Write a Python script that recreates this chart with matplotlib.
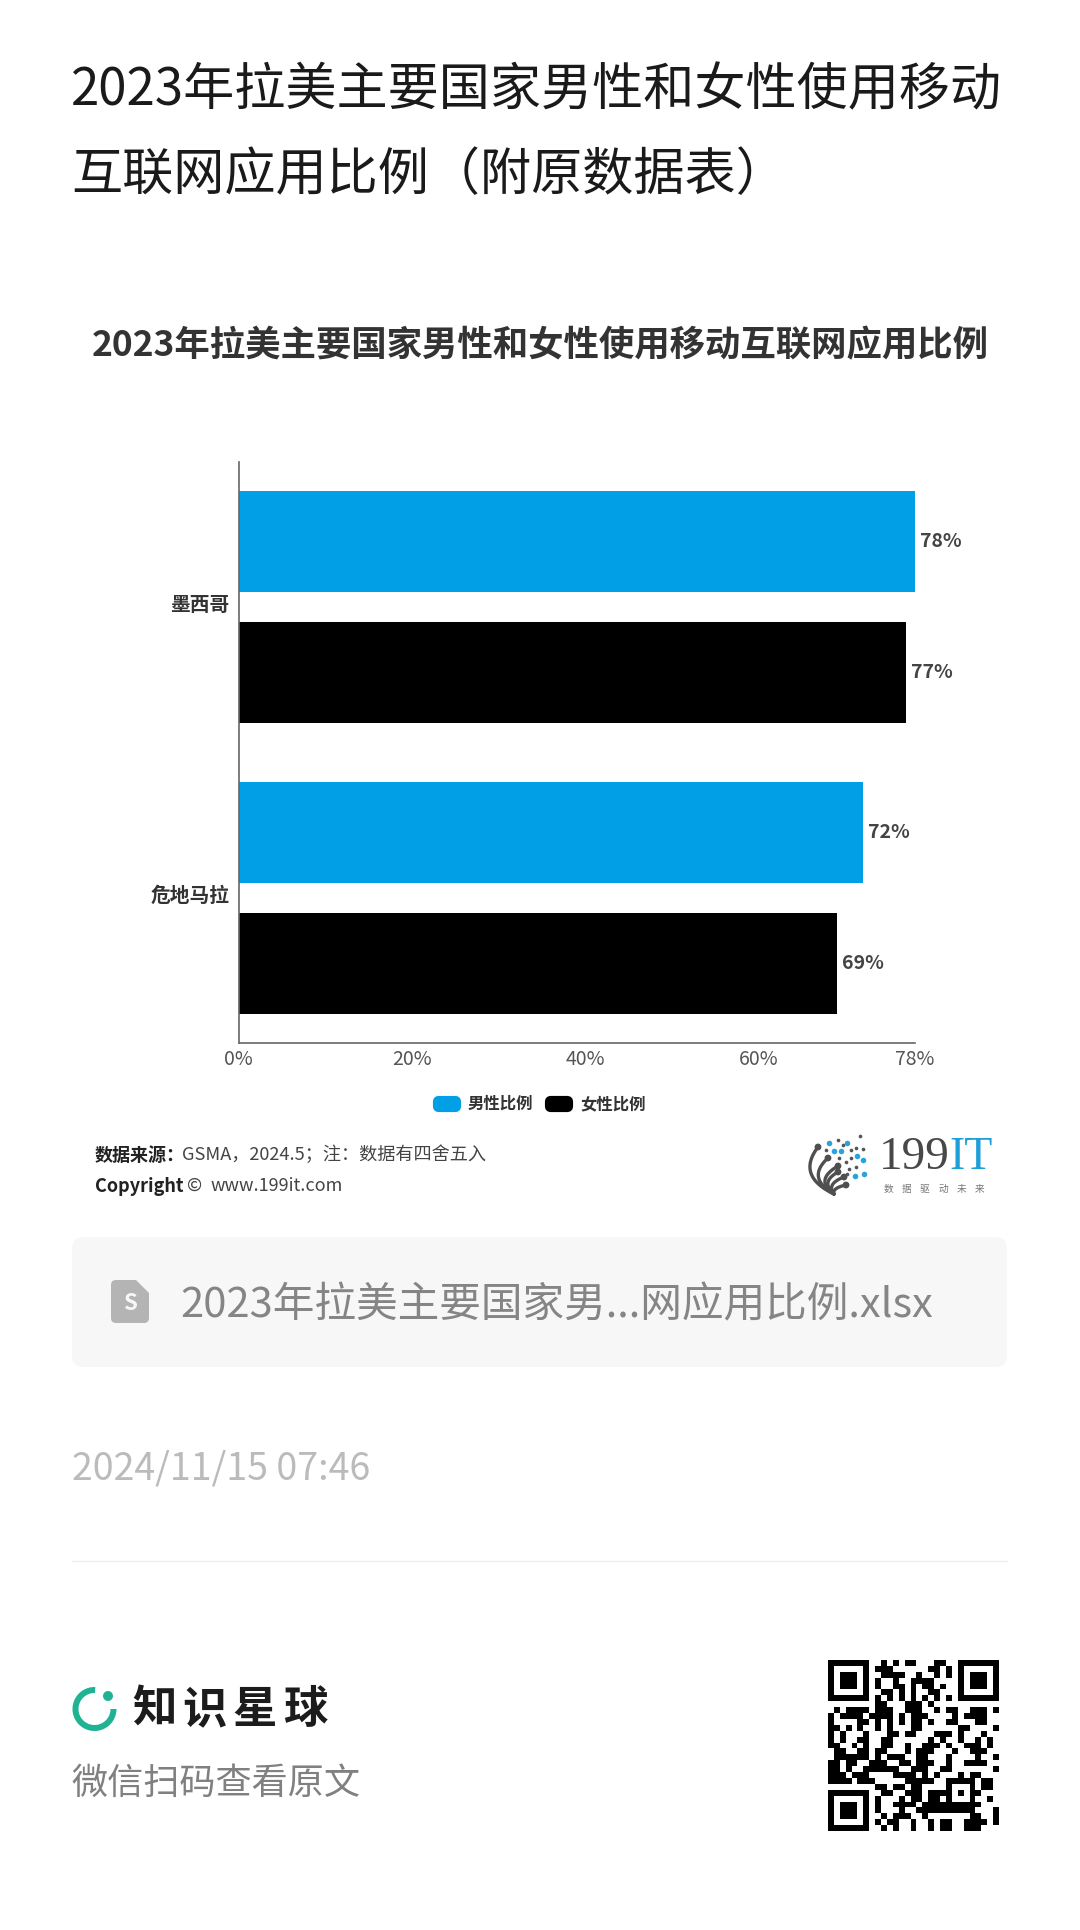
import numpy as np
import matplotlib
matplotlib.use('Agg')
import matplotlib.pyplot as plt
from matplotlib.patches import FancyBboxPatch, Wedge, Circle, Polygon
from matplotlib.transforms import ScaledTranslation

plt.rcParams['font.family'] = ['Noto Sans CJK SC', 'DejaVu Sans']

# data
countries = ['墨西哥', '危地马拉']
male = [78, 72]
female = [77, 69]
series_names = ['男性比例', '女性比例']
series_colors = ['#019fe6', '#000000']
xticks = [0, 20, 40, 60, 78]

page_title = ['2023年拉美主要国家男性和女性使用移动', '互联网应用比例（附原数据表）']
chart_title = '2023年拉美主要国家男性和女性使用移动互联网应用比例'
file_name = '2023年拉美主要国家男...网应用比例.xlsx'
date_text = '2024/11/15 07:46'

qr_rows = [
    '1111111001010110001100' + '1111111',
    '1000001011100000011010' + '1000001',
    '1011101001111001001010' + '1011101',
    '1011101010010011110000' + '1011101',
    '1011101010011010110100' + '1011101',
    '1000001001101010011000' + '1000001',
    '1111111010101010101010' + '1111111',
    '0000000011000111010000' + '0000000',
    '0101111011100111001011' + '0011101',
    '1011110111101011100001' + '0111100',
    '1000011010101011010011' + '0001100',
    '1101010010100011000000' + '1100001',
    '1010001000110110001110' + '1000100',
    '1010011001100000010100' + '1001010',
    '1100101001100100111010' + '0111010',
    '0110011011000101110001' + '0011100',
    '0111111010111001100010' + '0001001',
    '1101100111001101110010' + '0111100',
    '1101001111110011100110' + '0000001',
    '1110111000011110101000' + '1011000',
    '1111011100000111110011111' + '0110',
    '00000000110110110000100010110',
    '11111110' + '011001110111101011000',
    '10000010' + '100010110110100010010',
    '10111010' + '100111101111111111000',
    '10111010' + '100010011111111110001',
    '10111010' + '010111001000000011001',
    '10000010' + '101100100101100111101',
    '11111110' + '010100100101100111000',
]

# 199IT logo bits (page pixels)
logo_blue = [(829, 1143), (847, 1143), (841, 1151), (834, 1151), (857, 1156), (863, 1160), (855, 1176), (864, 1174)]
logo_dark = [(838, 1140), (860, 1136), (843, 1145), (826, 1150), (851, 1150), (856, 1148), (863, 1149),
             (839, 1158), (851, 1158), (846, 1162), (856, 1167), (849, 1169), (847, 1174)]
stem_ends = [(818, 1147), (828, 1158), (838, 1166), (838, 1172), (844, 1177), (846, 1185)]
stem_ctrl = [(796, 1176), (806, 1178), (814, 1180), (820, 1182), (826, 1184), (832, 1188)]

fig = plt.figure(figsize=(10.8, 19.3), dpi=100, facecolor='white')

# whole page in pixel coords
page = fig.add_axes([0, 0, 1, 1])
page.set_xlim(0, 1080)
page.set_ylim(1930, 0)
page.axis('off')

for i, line in enumerate(page_title):
    page.text(71, 91 + i * 84, line, fontsize=36.8, color='#1a1a1a', va='center', ha='left')
page.text(540, 346, chart_title, fontsize=25.5, fontweight='bold', color='#333333', va='center', ha='center')

# chart
W, H = 1080.0, 1930.0
ax = fig.add_axes([238.5 / W, 1 - 1043 / H, (914.5 - 238.5) / W, (1043 - 462) / H])
y = np.arange(len(countries))
bar_h = 0.348
off = 0.226
bars_m = ax.barh(y - off, male, bar_h, color=series_colors[0])
bars_f = ax.barh(y + off, female, bar_h, color=series_colors[1])
ax.set_ylim(1.5, -0.5)
ax.set_xlim(0, 78)
ax.set_xticks(xticks)
ax.set_xticklabels(['%d%%' % v for v in xticks], fontsize=14, color='#555555')
ax.set_yticks(y)
ax.set_yticklabels(countries, fontsize=14.2, fontweight='bold', color='#333333')
ax.tick_params(axis='x', length=0, pad=4)
ax.tick_params(axis='y', length=0, pad=6.5)
# category labels sit a little above centre in the original
for lab in ax.get_yticklabels():
    lab.set_transform(lab.get_transform() + ScaledTranslation(0, 2.5 / 72, fig.dpi_scale_trans))
for s in ['top', 'right']:
    ax.spines[s].set_visible(False)
for s in ['left', 'bottom']:
    ax.spines[s].set_color('#666666')
    ax.spines[s].set_linewidth(1.2)
for b, vals in ((bars_m, male), (bars_f, female)):
    ax.bar_label(b, labels=['%d%%' % v for v in vals], padding=4, fontsize=14,
                 fontweight='bold', color='#444444', clip_on=False)

# legend
def legend_item(x, color, name):
    page.add_patch(FancyBboxPatch((x + 3, 1098), 24, 12, boxstyle='round,pad=0,rounding_size=4',
                                  mutation_aspect=1, fc=color, ec=color, lw=3))
    page.text(x + 36, 1104, name, fontsize=11.8, fontweight='bold', color='#333333', va='center', ha='left')

legend_item(432, series_colors[0], series_names[0])
legend_item(544, series_colors[1], series_names[1])

# source
page.text(95, 1155, '数据来源：', fontsize=13, fontweight='bold', color='#222222', va='center')
page.text(182, 1155, 'GSMA，2024.5；注：数据有四舍五入', fontsize=13.1, color='#444444', va='center')
page.text(95, 1186, 'Copyright', fontsize=13, fontweight='bold', color='#222222', va='center')
page.text(187, 1186, '©', fontsize=13, color='#444444', va='center')
page.text(211, 1186, 'www.199it.com', fontsize=13, color='#444444', va='center')

# 199IT logo
base = np.array([834.0, 1194.0])
tt = np.linspace(0, 1, 30)
for end, ctrl in zip(stem_ends, stem_ctrl):
    end = np.array(end)
    ctrl = np.array(ctrl)
    pts = np.outer((1 - tt) ** 2, base) + np.outer(2 * tt * (1 - tt), ctrl) + np.outer(tt ** 2, end)
    page.plot(pts[:, 0], pts[:, 1], color='#4f4f4f', lw=2.4, solid_capstyle='round')
    page.add_patch(Circle(tuple(end), 3.4, fc='#4f4f4f', ec='none'))
page.scatter([p[0] for p in logo_dark], [p[1] for p in logo_dark], s=7, c='#555555', linewidths=0)
page.scatter([p[0] for p in logo_blue], [p[1] for p in logo_blue], s=16, c='#2aa3dc', linewidths=0)
page.text(879, 1158, '199', fontsize=34, family='Liberation Serif', color='#484848', va='center', ha='left')
page.text(949, 1158, 'IT', fontsize=33, family='Liberation Serif', color='#1e9fd8', va='center', ha='left')
for i, ch in enumerate('数据驱动未来'):
    page.text(888 + i * 18.4, 1189, ch, fontsize=7, color='#777777', va='center', ha='center')

# attachment card
page.add_patch(FancyBboxPatch((72, 1237), 935, 130, boxstyle='round,pad=0,rounding_size=12',
                              fc='#f7f7f7', ec='none'))
page.add_patch(FancyBboxPatch((111, 1280), 38, 43, boxstyle='round,pad=0,rounding_size=5',
                              fc='#b4b4b4', ec='none'))
page.add_patch(Polygon([[135, 1279], [150, 1279], [150, 1294]], fc='#f7f7f7', ec='none'))
page.text(130, 1304, 'S', fontsize=16, fontweight='black', color='#f7f7f7', va='center', ha='center')
page.text(180, 1306, file_name, fontsize=30, color='#858585', va='center', ha='left')

page.text(72, 1469, date_text, fontsize=27, color='#bbbbbb', va='center', ha='left')
page.plot([72, 1007], [1561, 1561], color='#efefef', lw=1)

# zsxq logo
page.add_patch(Wedge((94.5, 1709), 22, 0, 272, width=6, fc='#1fb394', ec='none'))
page.add_patch(Circle((108, 1696), 5, fc='#1fb394', ec='none'))
for i, ch in enumerate('知识星球'):
    page.text(154 + i * 50.5, 1710, ch, fontsize=32, fontweight='bold', color='#1c1c1c', va='center', ha='center')
page.text(71, 1784, '微信扫码查看原文', fontsize=26, color='#808080', va='center', ha='left')

# qr
qr = np.array([[int(c) for c in row] for row in qr_rows])
qr_ax = fig.add_axes([828 / W, 1 - 1831 / H, 171 / W, 171 / H])
qr_ax.imshow(qr, cmap='gray_r', interpolation='nearest', vmin=0, vmax=1, aspect='auto')
qr_ax.axis('off')

fig.savefig('out.png', dpi=100)
